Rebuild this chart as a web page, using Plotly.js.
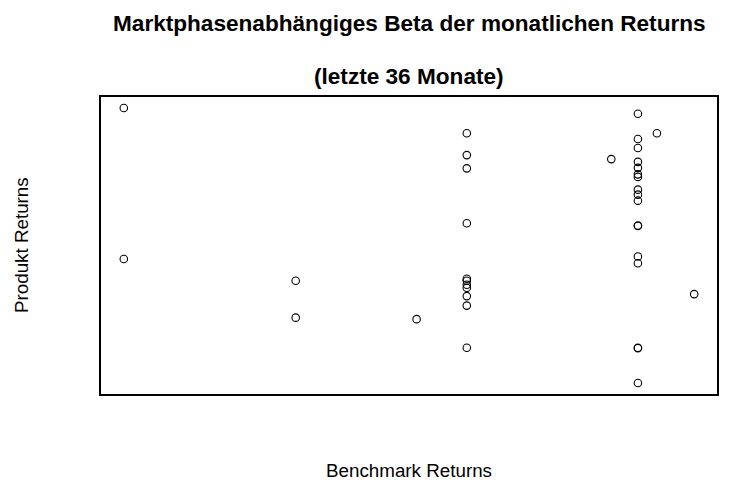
<!DOCTYPE html>
<html>
<head>
<meta charset="utf-8">
<script src="https://cdn.plot.ly/plotly-3.0.1.min.js"></script>
<style>html,body{margin:0;padding:0;background:#fff}#chart{width:750px;height:499px}</style>
</head>
<body>
<div id="chart"></div>
<script>
// Benchmark returns (x) and product returns (y), 36 months
const benchmarkReturns = [
  -4.00, -4.00,
  -1.74, -1.74,
  -0.15,
  0.51, 0.51, 0.51, 0.51, 0.51, 0.51, 0.51, 0.51, 0.51, 0.51, 0.51,
  2.41,
  3.01,
  3.50,
  2.76, 2.76, 2.76, 2.76, 2.76, 2.76, 2.76, 2.76, 2.76, 2.76, 2.76, 2.76, 2.76, 2.76, 2.76, 2.76, 2.76
];
const productReturns = [
  5.98, -0.05,
  -0.92, -2.39,
  -2.45,
  4.97, 4.10, 3.57, 1.38, -0.84, -0.92, -1.08, -1.20, -1.53, -1.91, -3.59,
  3.94,
  4.97,
  -1.45,
  5.75, 4.74, 4.38, 3.83, 3.59, 3.33, 3.23, 2.72, 2.52, 2.28, 1.29, 1.27, 0.05, -0.22, -3.59, -3.61, -5.00
];
const titleLine1 = "Marktphasenabhängiges Beta der monatlichen Returns";
const titleLine2 = "(letzte 36 Monate)";
const xLabel = "Benchmark Returns";
const yLabel = "Produkt Returns";

function padRange(arr) {
  const mn = Math.min(...arr), mx = Math.max(...arr);
  const p = (mx - mn) * 0.04;
  return [mn - p, mx + p];
}

const trace = {
  x: benchmarkReturns,
  y: productReturns,
  type: "scatter",
  mode: "markers",
  marker: {symbol: "circle-open", size: 7.5, color: "#000", line: {width: 1.1, color: "#000"}},
  hoverinfo: "x+y"
};

const font = "Liberation Sans, Arial, Helvetica, sans-serif";
const layout = {
  width: 750, height: 499,
  margin: {l: 101, r: 33, t: 97, b: 105},
  paper_bgcolor: "#fff", plot_bgcolor: "#fff",
  showlegend: false,
  xaxis: {range: padRange(benchmarkReturns), showgrid: false, zeroline: false, showticklabels: false, ticks: "",
          showline: true, mirror: true, linecolor: "#000", linewidth: 2},
  yaxis: {range: padRange(productReturns), showgrid: false, zeroline: false, showticklabels: false, ticks: "",
          showline: true, mirror: true, linecolor: "#000", linewidth: 2},
  annotations: [
    {text: "<b>" + titleLine1 + "</b>", xref: "paper", yref: "paper", x: 0.5, y: 1.249, xanchor: "center", yanchor: "middle",
     showarrow: false, font: {family: font, size: 22.6, color: "#000"}},
    {text: "<b>" + titleLine2 + "</b>", xref: "paper", yref: "paper", x: 0.5, y: 1.068, xanchor: "center", yanchor: "middle",
     showarrow: false, font: {family: font, size: 22.6, color: "#000"}},
    {text: xLabel, xref: "paper", yref: "paper", x: 0.5, y: -0.256, xanchor: "center", yanchor: "middle",
     showarrow: false, font: {family: font, size: 18.8, color: "#000"}},
    {text: yLabel, xref: "paper", yref: "paper", x: -0.129, y: 0.5, xanchor: "center", yanchor: "middle", textangle: -90,
     showarrow: false, font: {family: font, size: 18.8, color: "#000"}}
  ]
};

Plotly.newPlot("chart", [trace], layout, {displayModeBar: false, staticPlot: true});
</script>
</body>
</html>
